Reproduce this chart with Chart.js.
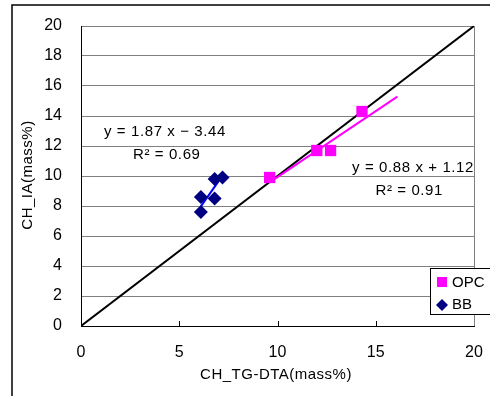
<!DOCTYPE html>
<html>
<head>
<meta charset="utf-8">
<script src="https://cdn.jsdelivr.net/npm/chart.js@4"></script>
<style>
  html, body { margin: 0; padding: 0; background: #fff; }
  #wrap { width: 490px; height: 396px; position: relative; }
</style>
</head>
<body>
<div id="wrap"><canvas id="chart" width="490" height="396"></canvas></div>
<script>
// values
const opcX = [9.6, 12.0, 12.7, 14.3];
const opcY = [9.9, 11.7, 11.7, 14.3];
const bbX = [6.1, 6.1, 6.8, 6.8, 7.2];
const bbY = [7.6, 8.6, 8.5, 9.8, 9.9];

// trendline end points
const opcLineX = [9.6, 16.1];
const opcLineY = [9.57, 15.29];
const bbLineX = [6.1, 7.2];
const bbLineY = [7.97, 10.02];

// 1:1 line
const diagX = [0, 20];
const diagY = [0, 20];

const xTicks = [0, 5, 10, 15, 20];
const yTicks = [0, 2, 4, 6, 8, 10, 12, 14, 16, 18, 20];

const seriesNames = ['OPC', 'BB'];
const fitLabels = [
  ['y = 0.88 x + 1.12', 'R² = 0.91'],
  ['y = 1.87 x − 3.44', 'R² = 0.69'],
];

const FONT = '"Liberation Sans", Arial, "Noto Sans CJK JP", sans-serif';
const OPC_COLOR = '#ff00ff';
const BB_COLOR = '#000080';

const pts = (xs, ys) => xs.map((x, i) => ({ x, y: ys[i] }));

const decorations = {
  id: 'decorations',
  beforeDraw(chart) {
    const { ctx } = chart;
    ctx.save();
    ctx.fillStyle = '#fff';
    ctx.fillRect(0, 0, chart.width, chart.height);
    ctx.strokeStyle = '#000';
    ctx.lineWidth = 1.5;
    ctx.strokeRect(12, 5, chart.width, chart.height);
    ctx.restore();
  },
  afterDraw(chart) {
    const { ctx, chartArea, scales } = chart;
    ctx.save();

    // inner tick marks on the x axis
    ctx.strokeStyle = '#000';
    ctx.lineWidth = 1;
    xTicks.slice(1, -1).forEach((v) => {
      const px = Math.round(scales.x.getPixelForValue(v)) + 0.5;
      ctx.beginPath();
      ctx.moveTo(px, chartArea.bottom);
      ctx.lineTo(px, chartArea.bottom - 5);
      ctx.stroke();
    });

    // axis titles
    ctx.fillStyle = '#000';
    ctx.font = '15px ' + FONT;
    ctx.letterSpacing = '0.5px';
    ctx.textAlign = 'center';
    ctx.textBaseline = 'middle';
    ctx.fillText('CH_TG-DTA(mass%)', 276, 375);
    ctx.save();
    ctx.translate(28, 175);
    ctx.rotate(-Math.PI / 2);
    ctx.fillText('CH_IA(mass%)', 0, 0);
    ctx.restore();

    // trendline equations
    ctx.font = '15px ' + FONT;
    ctx.letterSpacing = '0.6px';
    ctx.textAlign = 'left';
    ctx.fillText(fitLabels[1][0], 104, 132);
    ctx.fillText(fitLabels[1][1], 133, 155);
    ctx.textAlign = 'right';
    ctx.fillText(fitLabels[0][0], 474, 168);
    ctx.fillText(fitLabels[0][1], 443, 191);
    ctx.letterSpacing = '0px';

    // legend
    ctx.fillStyle = '#fff';
    ctx.fillRect(430, 268, 70, 46);
    ctx.strokeStyle = '#000';
    ctx.lineWidth = 1;
    ctx.strokeRect(430.5, 268.5, 70, 46);
    ctx.fillStyle = OPC_COLOR;
    ctx.fillRect(437, 277, 10, 10);
    ctx.fillStyle = BB_COLOR;
    ctx.beginPath();
    ctx.moveTo(442, 299);
    ctx.lineTo(448, 305);
    ctx.lineTo(442, 311);
    ctx.lineTo(436, 305);
    ctx.closePath();
    ctx.fill();
    ctx.fillStyle = '#000';
    ctx.font = '15px ' + FONT;
    ctx.textAlign = 'left';
    ctx.fillText(seriesNames[0], 452, 283);
    ctx.fillText(seriesNames[1], 452, 305);

    ctx.restore();
  },
};

new Chart(document.getElementById('chart'), {
  type: 'scatter',
  data: {
    datasets: [
      {
        label: seriesNames[0],
        data: pts(opcX, opcY),
        pointStyle: 'rect',
        pointRadius: 8,
        backgroundColor: OPC_COLOR,
        borderColor: OPC_COLOR,
        borderWidth: 0,
      },
      {
        label: seriesNames[1],
        data: pts(bbX, bbY),
        pointStyle: 'rectRot',
        pointRadius: 7,
        backgroundColor: BB_COLOR,
        borderColor: BB_COLOR,
        borderWidth: 0,
      },
      {
        label: 'OPC fit',
        data: pts(opcLineX, opcLineY),
        showLine: true,
        pointRadius: 0,
        borderColor: OPC_COLOR,
        borderWidth: 2,
      },
      {
        label: 'BB fit',
        data: pts(bbLineX, bbLineY),
        showLine: true,
        pointRadius: 0,
        borderColor: '#0000ff',
        borderWidth: 2,
      },
      {
        label: '1:1',
        data: pts(diagX, diagY),
        showLine: true,
        pointRadius: 0,
        borderColor: '#000',
        borderWidth: 2,
      },
    ],
  },
  options: {
    responsive: false,
    animation: false,
    layout: { padding: { top: 26, right: 16, left: 0, bottom: 0 } },
    plugins: {
      legend: { display: false },
      tooltip: { enabled: false },
    },
    scales: {
      x: {
        type: 'linear',
        min: 0,
        max: 20,
        afterFit: (scale) => {
          scale.height = 70;
          scale.paddingLeft = 0;
          scale.paddingRight = 0;
        },
        afterBuildTicks: (scale) => { scale.ticks = xTicks.map((value) => ({ value })); },
        ticks: { color: '#000', font: { size: 16, family: FONT }, padding: 17 },
        grid: {
          drawTicks: false,
          color: (c) => (c.tick && c.tick.value === 20 ? '#808080' : 'rgba(0,0,0,0)'),
        },
        border: { color: '#000', width: 1 },
      },
      y: {
        min: 0,
        max: 20,
        afterFit: (scale) => {
          scale.width = 81;
          scale.paddingTop = 0;
          scale.paddingBottom = 0;
        },
        afterBuildTicks: (scale) => { scale.ticks = yTicks.map((value) => ({ value })); },
        ticks: { color: '#000', font: { size: 16, family: FONT }, padding: 19 },
        grid: { drawTicks: false, color: '#808080' },
        border: { color: '#000', width: 1 },
      },
    },
  },
  plugins: [decorations],
});
</script>
</body>
</html>
